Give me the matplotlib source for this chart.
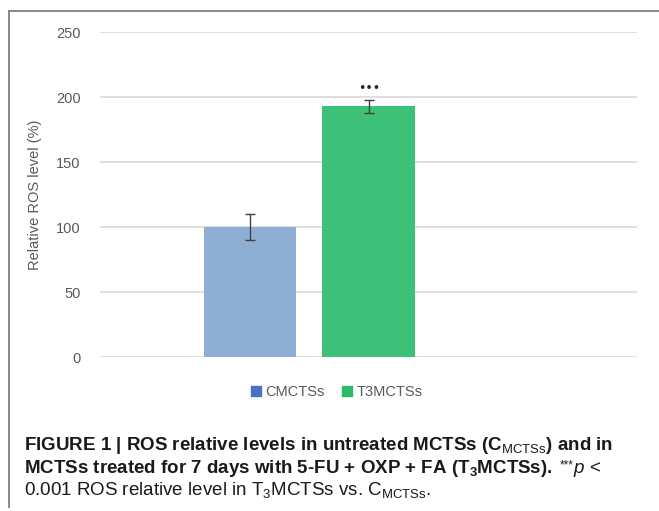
import matplotlib.pyplot as plt
from matplotlib.lines import Line2D
from matplotlib.patches import Patch

# Data
groups = ["CMCTSs", "T3MCTSs"]
ros_level = [100, 193]
ros_err = [10, 5]
bar_colors = ["#8FAED4", "#3DC178"]
legend_colors = ["#4472C4", "#2DB968"]

plt.rcParams["mathtext.fontset"] = "custom"
plt.rcParams["mathtext.rm"] = "Liberation Sans"
plt.rcParams["mathtext.it"] = "Liberation Sans:italic"
plt.rcParams["mathtext.bf"] = "Liberation Sans:bold"

chart_font = "Liberation Sans"
gray = "#595959"

fig = plt.figure(figsize=(6.59, 5.11), dpi=100)
ax = fig.add_axes([0.152, 0.301, 0.815, 0.636])

x = [0, 1]
ax.bar(x, ros_level, width=0.78, color=bar_colors, zorder=2)
ax.errorbar(x, ros_level, yerr=ros_err, fmt="none", ecolor="#404040",
            elinewidth=1, capsize=3.5, capthick=1, zorder=3)
ax.text(x[1], ros_level[1] + ros_err[1] + 4, "\u2022\u2022\u2022", ha="center",
        va="bottom", fontsize=9, color="#262626")

ax.set_xlim(-1.266, 3.266)
ax.set_ylim(0, 250)
ax.set_yticks(range(0, 251, 50))
ax.set_xticks([])
ax.grid(axis="y", color="#D9D9D9", linewidth=1.2, zorder=0)
for s in ax.spines.values():
    s.set_visible(False)
ax.tick_params(axis="y", length=0, pad=14, labelcolor=gray, labelsize=10.5)
for lbl in ax.get_yticklabels():
    lbl.set_family(chart_font)
ax.set_ylabel("Relative ROS level (%)", color=gray, fontsize=10.5,
              family=chart_font, labelpad=10)

handles = [Patch(color=c) for c in legend_colors]
fig.legend(handles, groups, loc="center", bbox_to_anchor=(0.511, 0.233),
           ncol=2, frameon=False, handlelength=0.7, handleheight=0.7,
           handletextpad=0.3, columnspacing=1.2,
           prop={"family": chart_font, "size": 10.5}, labelcolor=gray)

# frame lines of the figure panel
fig.add_artist(Line2D([9 / 659, 9 / 659], [1 - 11 / 511, 1 - 507 / 511],
                      transform=fig.transFigure, color="#7F7F7F", linewidth=1.3))
fig.add_artist(Line2D([9 / 659, 1.0], [1 - 11 / 511, 1 - 11 / 511],
                      transform=fig.transFigure, color="#7F7F7F", linewidth=1.3))

# caption
cap = dict(family="Liberation Sans", fontsize=13.5, color="#1a1a1a")
x0 = 24 / 659
y1, y2, y3 = 1 - 450 / 511, 1 - 473 / 511, 1 - 495 / 511
fig.text(x0, y1,
         r"FIGURE 1 | ROS relative levels in untreated MCTSs (C$_{\mathrm{MCTSs}}$) and in",
         fontweight="bold", va="baseline", **cap)
t1 = fig.text(x0, y2,
              r"MCTSs treated for 7 days with 5-FU + OXP + FA (T$_{\mathbf{3}}$MCTSs).",
              fontweight="bold", va="baseline", **cap)
fig.text(x0, y3,
         r"0.001 ROS relative level in T$_{3}$MCTSs vs. C$_{\mathrm{MCTSs}}$.",
         va="baseline", **cap)

fig.canvas.draw()
bb = t1.get_window_extent().transformed(fig.transFigure.inverted())
t2 = fig.text(bb.x1 + 7 / 659, y2 + 5 / 511, "***", va="baseline",
              family="Liberation Sans", fontsize=8.5, color="#1a1a1a")
fig.canvas.draw()
bb2 = t2.get_window_extent().transformed(fig.transFigure.inverted())
fig.text(bb2.x1, y2, "$\\mathit{p}$ <", va="baseline", **cap)

fig.savefig("out.png", dpi=100)
